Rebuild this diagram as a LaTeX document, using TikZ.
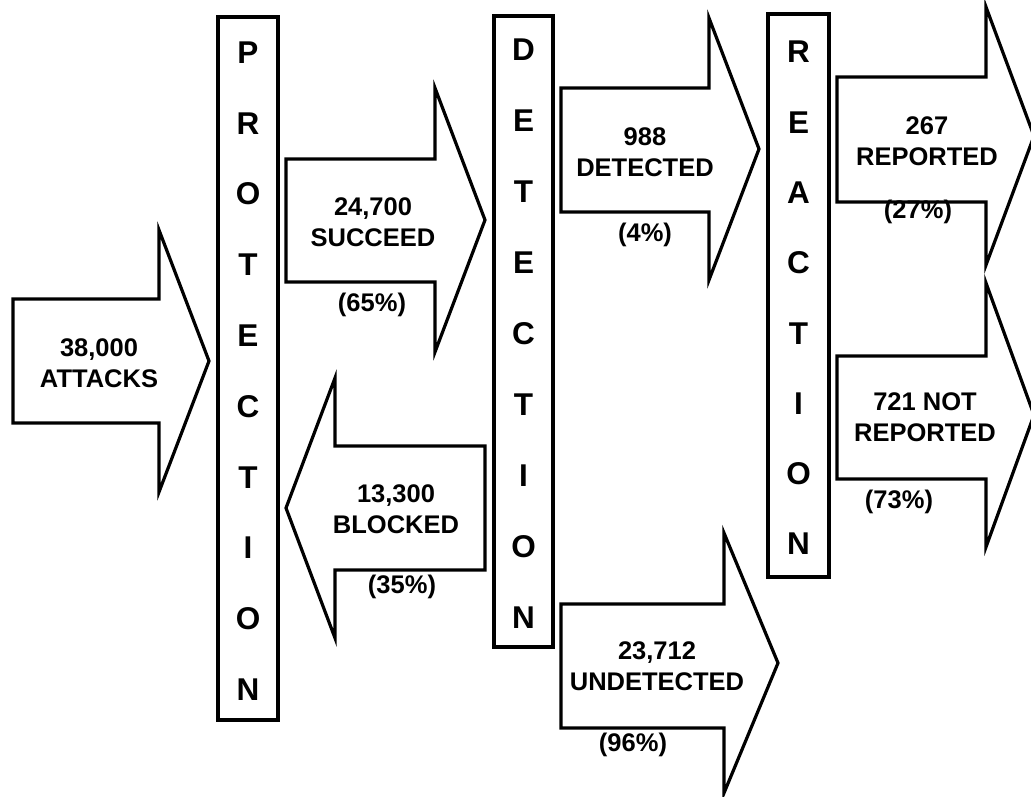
\documentclass[tikz,border=0pt]{standalone}
\usepackage{fontspec}
\setmainfont{Liberation Sans}
\begin{document}
\begin{tikzpicture}[x=1pt,y=-1pt,
  arr/.style={draw=black,line width=3.2pt,fill=white,line join=miter},
  vbox/.style={draw=black,line width=3.2pt,fill=white,inner sep=0pt},
  lab/.style={font=\fontsize{25.5}{31}\selectfont\bfseries,align=center,inner sep=0pt},
  letter/.style={font=\fontsize{31.5}{31.5}\selectfont\bfseries,inner sep=0pt}]
\path[fill=white,use as bounding box] (0,0) rectangle (1031,796);

% vertical stage boxes
\node[vbox,minimum width=60pt,minimum height=703pt] (prot) at (248,368.5) {};
\node[vbox,minimum width=59pt,minimum height=631pt] (det) at (523.5,331.5) {};
\node[vbox,minimum width=61pt,minimum height=563pt] (reac) at (798.5,295.5) {};

\foreach \l [count=\i] in {P,R,O,T,E,C,T,I,O,N}
  \node[letter] (pl\i) at (248,{52.5+70.8*(\i-1)}) {\l};
\foreach \l [count=\i] in {D,E,T,E,C,T,I,O,N}
  \node[letter] (dl\i) at (523.5,{49.5+71*(\i-1)}) {\l};
\foreach \l [count=\i] in {R,E,A,C,T,I,O,N}
  \node[letter] (rl\i) at (798.5,{52+70.3*(\i-1)}) {\l};

% arrows
\draw[arr] (13,299) -- (159,299) -- (159,230) -- (209,361) -- (159,492) -- (159,423) -- (13,423) -- cycle;
\draw[arr] (286,159) -- (435,159) -- (435,88) -- (485,220) -- (435,352) -- (435,282) -- (286,282) -- cycle;
\draw[arr] (485,446) -- (335,446) -- (335,378) -- (286,508) -- (335,638) -- (335,570) -- (485,570) -- cycle;
\draw[arr] (561,88) -- (709,88) -- (709,18) -- (759,149) -- (709,280) -- (709,212) -- (561,212) -- cycle;
\draw[arr] (561,604) -- (724,604) -- (724,533) -- (778,663) -- (724,793) -- (724,728) -- (561,728) -- cycle;
\draw[arr] (837,77) -- (986,77) -- (986,7) -- (1034,136) -- (986,265) -- (986,202) -- (837,202) -- cycle;
\draw[arr] (837,356) -- (986,356) -- (986,283) -- (1034,415) -- (986,547) -- (986,479) -- (837,479) -- cycle;

% labels
\node[lab] (attacks) at (99,363) {38,000\\ATTACKS};
\node[lab] (succeed) at (373,222) {24,700\\SUCCEED};
\node[lab] (succp) at (372,305) {(65\%)};
\node[lab] (blocked) at (396,509) {13,300\\BLOCKED};
\node[lab] (blockp) at (402,587) {(35\%)};
\node[lab] (detected) at (645,152) {988\\DETECTED};
\node[lab] (detp) at (645,235) {(4\%)};
\node[lab] (undetected) at (657,666) {23,712\\UNDETECTED};
\node[lab] (undetp) at (633,745) {(96\%)};
\node[lab] (reported) at (927,141) {267\\REPORTED};
\node[lab] (repp) at (918,212) {(27\%)};
\node[lab] (notrep) at (925,417) {721 NOT\\REPORTED};
\node[lab] (notrepp) at (899,502) {(73\%)};
\end{tikzpicture}
\end{document}
